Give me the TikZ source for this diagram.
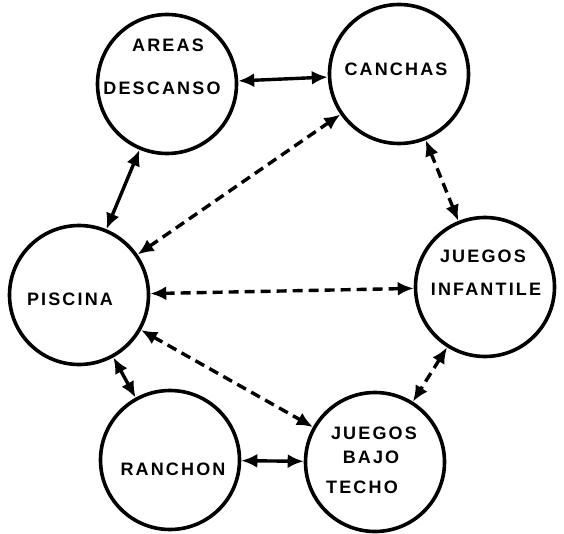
\documentclass[tikz,border=0pt]{standalone}
\usepackage{fontspec}
\setsansfont{Liberation Sans}
\usetikzlibrary{arrows.meta}
\begin{document}
\begin{tikzpicture}[x=1pt,y=-1pt,
  place/.style={draw,circle,line width=3.6pt,minimum size=139pt,inner sep=0pt},
  lbl/.style={inner sep=0pt,font=\sffamily\bfseries\fontsize{18}{18}\selectfont\addfontfeature{LetterSpace=12}},
  link/.style={line width=3.4pt,{Latex[length=16pt,width=14pt]}-{Latex[length=16pt,width=14pt]}},
  dlink/.style={link,dash pattern=on 10pt off 6pt}]
\useasboundingbox (0,0) rectangle (564,534);
% the six places
\node[place] (areas) at (167,84) {};
\node[place] (canchas) at (399,74) {};
\node[place] (piscina) at (79,295) {};
\node[place] (infantil) at (485,287) {};
\node[place] (ranchon) at (170,460) {};
\node[place] (bajo) at (375,462) {};
% their names
\node[lbl] (areas-a) at (168,45) {AREAS};
\node[lbl] (areas-b) at (162,88) {DESCANSO};
\node[lbl] (canchas-a) at (396,69) {CANCHAS};
\node[lbl] (piscina-a) at (70,299) {PISCINA};
\node[lbl] (infantil-a) at (483,256) {JUEGOS};
\node[lbl] (infantil-b) at (486,289) {INFANTILE};
\node[lbl] (ranchon-a) at (173,469) {RANCHON};
\node[lbl] (bajo-a) at (374,433) {JUEGOS};
\node[lbl] (bajo-b) at (371,457) {BAJO};
\node[lbl] (bajo-c) at (362,487) {TECHO};
% links
\draw[link] (areas) -- (canchas);
\draw[link] (areas) -- (piscina);
\draw[link] (piscina) -- (ranchon);
\draw[link] (ranchon) -- (bajo);
\draw[dlink] (piscina) -- (canchas);
\draw[dlink] (piscina) -- (infantil);
\draw[dlink] (piscina) -- (bajo);
\draw[dlink] (canchas) -- (infantil);
\draw[dlink] (infantil) -- (bajo);
\end{tikzpicture}
\end{document}
